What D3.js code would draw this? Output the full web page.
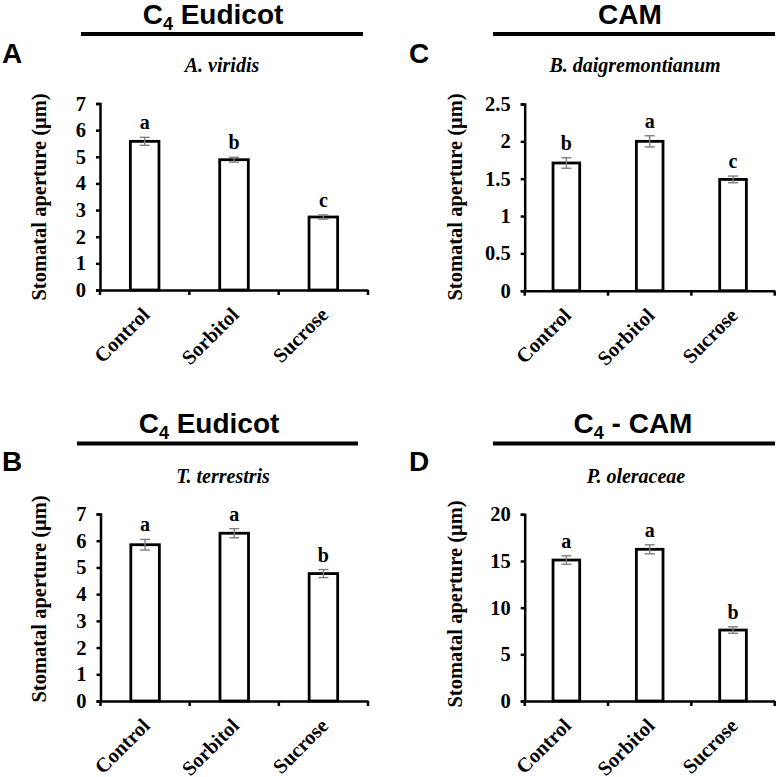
<!DOCTYPE html>
<html>
<head>
<meta charset="utf-8">
<script src="https://cdn.jsdelivr.net/npm/d3@7"></script>
<style>
  html, body { margin: 0; padding: 0; background: #fff; }
  svg { display: block; }
</style>
</head>
<body>
<svg id="chart" width="777" height="777"></svg>
<script>
// ---- Data ----
const categories = ["Control", "Sorbitol", "Sucrose"];
const yLabel = "Stomatal aperture (μm)";

const groupTitles = ["C4 Eudicot", "CAM", "C4 Eudicot", "C4 - CAM"];
const panelLetters = ["A", "C", "B", "D"];
const speciesNames = ["A. viridis", "B. daigremontianum", "T. terrestris", "P. oleraceae"];

const valuesA = [5.58, 4.89, 2.74];
const errorsA = [0.15, 0.09, 0.08];
const sigA = ["a", "b", "c"];
const ticksA = [0, 1, 2, 3, 4, 5, 6, 7];

const valuesC = [1.71, 2.0, 1.49];
const errorsC = [0.07, 0.075, 0.045];
const sigC = ["b", "a", "c"];
const ticksC = [0, 0.5, 1, 1.5, 2, 2.5];

const valuesB = [5.85, 6.28, 4.77];
const errorsB = [0.2, 0.17, 0.15];
const sigB = ["a", "a", "b"];
const ticksB = [0, 1, 2, 3, 4, 5, 6, 7];

const valuesD = [15.1, 16.25, 7.6];
const errorsD = [0.45, 0.48, 0.35];
const sigD = ["a", "a", "b"];
const ticksD = [0, 5, 10, 15, 20];

// ---- Layout (positions only) ----
const layouts = [
  { x0: 100, x1: 368, yTop: 103.5, yBot: 290, titleX: 213, titleY: 24, lineX0: 81, lineX1: 363, lineY: 34, letterX: 2, letterY: 63, speciesX: 222, speciesY: 72, ylabX: 46, ylabY: 197 },
  { x0: 524.7, x1: 774.7, yTop: 104, yBot: 290.7, titleX: 630, titleY: 24, lineX0: 493, lineX1: 775, lineY: 34, letterX: 409, letterY: 63, speciesX: 635, speciesY: 72, ylabX: 462, ylabY: 197 },
  { x0: 100.5, x1: 368, yTop: 514, yBot: 701, titleX: 209, titleY: 433, lineX0: 77, lineX1: 358, lineY: 443.5, letterX: 2, letterY: 471, speciesX: 223, speciesY: 483, ylabX: 46, ylabY: 599 },
  { x0: 524.7, x1: 774.7, yTop: 514.3, yBot: 701, titleX: 633, titleY: 433, lineX0: 493, lineX1: 775, lineY: 443.5, letterX: 409, letterY: 471, speciesX: 636, speciesY: 483, ylabX: 462, ylabY: 604 }
];

const panels = [
  { values: valuesA, errors: errorsA, sig: sigA, ticks: ticksA },
  { values: valuesC, errors: errorsC, sig: sigC, ticks: ticksC },
  { values: valuesB, errors: errorsB, sig: sigB, ticks: ticksB },
  { values: valuesD, errors: errorsD, sig: sigD, ticks: ticksD }
];

const SANS = "'Liberation Sans', Arial, sans-serif";
const SERIF = "'Liberation Serif', 'Times New Roman', serif";

const svg = d3.select("#chart");

panels.forEach((p, i) => {
  const L = layouts[i];
  const g = svg.append("g");

  // Group title with subscript 4
  const title = groupTitles[i];
  const t = g.append("text")
    .attr("x", L.titleX).attr("y", L.titleY)
    .attr("text-anchor", "middle")
    .style("font-family", SANS).style("font-weight", "bold").style("font-size", "28px")
    .attr("fill", "#000");
  if (title.startsWith("C4")) {
    t.append("tspan").text("C");
    t.append("tspan").text("4").attr("dy", 6).style("font-size", "18px");
    t.append("tspan").text(title.slice(2)).attr("dy", -6);
  } else {
    t.text(title);
  }

  g.append("line")
    .attr("x1", L.lineX0).attr("x2", L.lineX1)
    .attr("y1", L.lineY).attr("y2", L.lineY)
    .attr("stroke", "#000").attr("stroke-width", 4);

  g.append("text")
    .attr("x", L.letterX).attr("y", L.letterY)
    .style("font-family", SANS).style("font-weight", "bold").style("font-size", "28px")
    .text(panelLetters[i]);

  g.append("text")
    .attr("x", L.speciesX).attr("y", L.speciesY)
    .attr("text-anchor", "middle")
    .style("font-family", SERIF).style("font-weight", "bold").style("font-style", "italic").style("font-size", "20px")
    .text(speciesNames[i]);

  // Scales
  const x = d3.scaleBand().domain(categories).range([L.x0, L.x1]).padding(0);
  const yMax = p.ticks[p.ticks.length - 1];
  const y = d3.scaleLinear().domain([0, yMax]).range([L.yBot, L.yTop]);

  // Y axis
  const yAxis = d3.axisLeft(y).tickValues(p.ticks).tickSize(4).tickPadding(10)
    .tickFormat(d => String(d));
  const yg = g.append("g").attr("transform", `translate(${L.x0},0)`).call(yAxis);
  yg.select(".domain").attr("stroke", "#000").attr("stroke-width", 2.5);
  yg.selectAll(".tick line").attr("stroke", "#000").attr("stroke-width", 2.5);
  yg.selectAll(".tick text")
    .style("font-family", SERIF).style("font-weight", "bold").style("font-size", "20.5px").attr("fill", "#000");

  // X axis (line + ticks at band boundaries)
  const xAxis = d3.axisBottom(x).tickSize(0).tickFormat("");
  const xg = g.append("g").attr("transform", `translate(0,${L.yBot})`).call(xAxis);
  xg.select(".domain").attr("stroke", "#000").attr("stroke-width", 2.5);
  xg.selectAll(".tick").remove();
  const boundaries = categories.map(c => x(c)).concat([x.range()[1]]);
  g.selectAll(".xtick" + i).data(boundaries).enter().append("line")
    .attr("x1", d => d).attr("x2", d => d)
    .attr("y1", L.yBot).attr("y2", L.yBot + 5)
    .attr("stroke", "#000").attr("stroke-width", 2.5);

  // X labels
  categories.forEach(c => {
    const cx = x(c) + x.bandwidth() / 2 + 6;
    const cy = L.yBot + 26;
    g.append("text")
      .attr("transform", `translate(${cx},${cy}) rotate(-45)`)
      .attr("text-anchor", "end")
      .style("font-family", SERIF).style("font-weight", "bold").style("font-size", "20.5px")
      .text(c);
  });

  // Bars
  const bw = x.bandwidth() * 0.32;
  const data = categories.map((c, k) => ({ c, v: p.values[k], e: p.errors[k], s: p.sig[k] }));
  g.selectAll(".bar" + i).data(data).enter().append("rect")
    .attr("x", d => x(d.c) + x.bandwidth() / 2 - bw / 2)
    .attr("y", d => y(d.v))
    .attr("width", bw)
    .attr("height", d => y(0) - y(d.v))
    .attr("fill", "#fff").attr("stroke", "#000").attr("stroke-width", 2.8);

  // Error bars
  const cap = 5;
  data.forEach(d => {
    const cx = x(d.c) + x.bandwidth() / 2;
    const eg = g.append("g").attr("stroke", "#7f7f7f").attr("stroke-width", 1.4);
    eg.append("line").attr("x1", cx).attr("x2", cx).attr("y1", y(d.v + d.e)).attr("y2", y(d.v - d.e));
    eg.append("line").attr("x1", cx - cap).attr("x2", cx + cap).attr("y1", y(d.v + d.e)).attr("y2", y(d.v + d.e));
    eg.append("line").attr("x1", cx - cap).attr("x2", cx + cap).attr("y1", y(d.v - d.e)).attr("y2", y(d.v - d.e));
    g.append("text")
      .attr("x", cx).attr("y", y(d.v + d.e) - 8)
      .attr("text-anchor", "middle")
      .style("font-family", SERIF).style("font-weight", "bold").style("font-size", "20px")
      .text(d.s);
  });

  // Y label
  g.append("text")
    .attr("transform", `translate(${L.ylabX},${L.ylabY}) rotate(-90)`)
    .attr("text-anchor", "middle")
    .style("font-family", SERIF).style("font-weight", "bold").style("font-size", "20.5px")
    .text(yLabel);
});
</script>
</body>
</html>
